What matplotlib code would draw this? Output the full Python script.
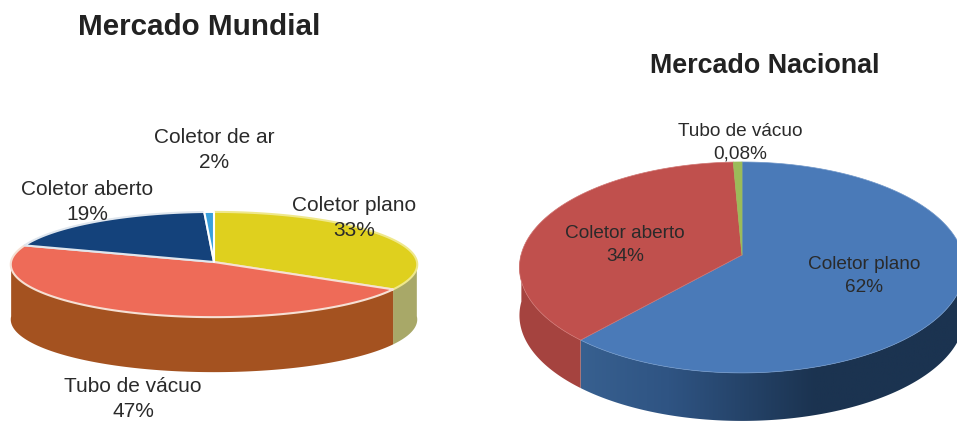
import numpy as np
import matplotlib
matplotlib.use('Agg')
import matplotlib.pyplot as plt
from matplotlib.colors import LinearSegmentedColormap
from matplotlib.patches import Polygon

plt.rcParams['font.family'] = ['Liberation Sans', 'DejaVu Sans']

# Mercado Mundial, clockwise from the top
# rotulos are the printed numbers, fatias what the drawn slices measure
mundial_nomes = ['Coletor plano', 'Tubo de vácuo', 'Coletor aberto', 'Coletor de ar']
mundial_rotulos = ['33%', '47%', '19%', '2%']
mundial_fatias = [33.5, 46.7, 19, 0.8]
mundial_cores = ['#dfd01e', '#ee6b58', '#14427b', '#3aa0dc']
mundial_lados = ['#a8a868', '#a45220', '#14427b', '#3aa0dc']
mundial_contornos = ['#efe88c', '#f6e0d4', '#dfe6ee', '#ffffff']

# Mercado Nacional: the printed labels (34%, 0,08%) do not add up with what is drawn
nacional_nomes = ['Coletor plano', 'Tubo de vácuo', 'Coletor aberto']
nacional_rotulos = ['62%', '0,08%', '34%']
nacional_fatias = [61.6, 37.7, 0.7]
nacional_cores = ['#4a7ab8', '#c0504d', '#9bbb59']
nacional_lados = [('#3d6898', '#2f5483', '#1b3350', '#1b3350'), '#a5433f', '#9bbb59']
nacional_contornos = ['#6f96c8', '#cf7370', '#9bbb59']


def ponto(ang, cx, cy, rx, ry, k):
    # tilted disc, slight perspective so the centre sits above the middle
    u = np.cos(ang)
    v = np.sin(ang)
    w = 1 + k * v
    return cx + rx * u / w, cy - ry * v / w


def pizza(ax, valores, cores, lados, contornos, cx, cy, rx, ry, k, fundo, lw):
    fracoes = np.array(valores, dtype=float) / sum(valores)
    fim = np.pi / 2 - 2 * np.pi * np.cumsum(fracoes)
    ini = np.concatenate([[np.pi / 2], fim[:-1]])

    # side wall, only the part turned to the viewer
    for a0, a1, lado in zip(ini, fim, lados):
        a = np.linspace(a0, a1, 300)
        a = a[np.sin(a) <= 0.02]
        if len(a) < 2:
            continue
        xs, ys = ponto(a, cx, cy, rx, ry, k)
        vx = np.concatenate([xs, xs[::-1]])
        vy = np.concatenate([ys, ys[::-1] + fundo])
        if isinstance(lado, (list, tuple)):
            cmapa = LinearSegmentedColormap.from_list('lado', lado)
            grad = np.linspace(0, 1, 256).reshape(1, -1)
            im = ax.imshow(grad, cmap=cmapa, aspect='auto', zorder=2,
                           extent=(cx - rx, cx + rx, cy + ry + fundo + 30, cy - ry))
            im.set_clip_path(Polygon(np.column_stack([vx, vy]), transform=ax.transData))
        else:
            ax.fill(vx, vy, color=lado, lw=0, zorder=2)

    # top face
    for a0, a1, cor, borda in zip(ini, fim, cores, contornos):
        a = np.linspace(a0, a1, 200)
        xs, ys = ponto(a, cx, cy, rx, ry, k)
        xs = np.concatenate([[cx], xs])
        ys = np.concatenate([[cy], ys])
        ax.fill(xs, ys, facecolor=cor, edgecolor=borda, lw=lw,
                joinstyle='round', zorder=3)


fig = plt.figure(figsize=(9.57, 4.21), dpi=100)
ax = fig.add_axes([0, 0, 1, 1])

pizza(ax, mundial_fatias, mundial_cores, mundial_lados, mundial_contornos,
      214, 262, 203, 52.5, 0.048, 55, 1.5)
pizza(ax, nacional_fatias, nacional_cores, nacional_lados, nacional_contornos,
      742, 255, 221, 104, 0.118, 48, 0.5)

ax.set_xlim(0, 957)
ax.set_ylim(421, 0)
ax.axis('off')

ax.text(199, 27, 'Mercado Mundial', fontsize=21.3, fontweight='bold',
        color='#222222', ha='center', va='center')
ax.text(764.5, 66, 'Mercado Nacional', fontsize=19.4, fontweight='bold',
        color='#222222', ha='center', va='center')

texto = dict(color='#2a2a2a', ha='center', va='center', linespacing=1.4, zorder=5)
ax.text(354, 218, f'{mundial_nomes[0]}\n{mundial_rotulos[0]}', fontsize=15, **texto)
ax.text(133, 399, f'{mundial_nomes[1]}\n{mundial_rotulos[1]}', fontsize=15, **texto)
ax.text(87, 202, f'{mundial_nomes[2]}\n{mundial_rotulos[2]}', fontsize=15, **texto)
ax.text(214, 150, f'{mundial_nomes[3]}\n{mundial_rotulos[3]}', fontsize=15, **texto)

ax.text(864, 276, f'{nacional_nomes[0]}\n{nacional_rotulos[0]}', fontsize=13.7, **texto)
ax.text(740, 142.5, f'{nacional_nomes[1]}\n{nacional_rotulos[1]}', fontsize=13.7, **texto)
ax.text(625, 245, f'{nacional_nomes[2]}\n{nacional_rotulos[2]}', fontsize=13.7, **texto)

fig.savefig('out.png', dpi=100)
